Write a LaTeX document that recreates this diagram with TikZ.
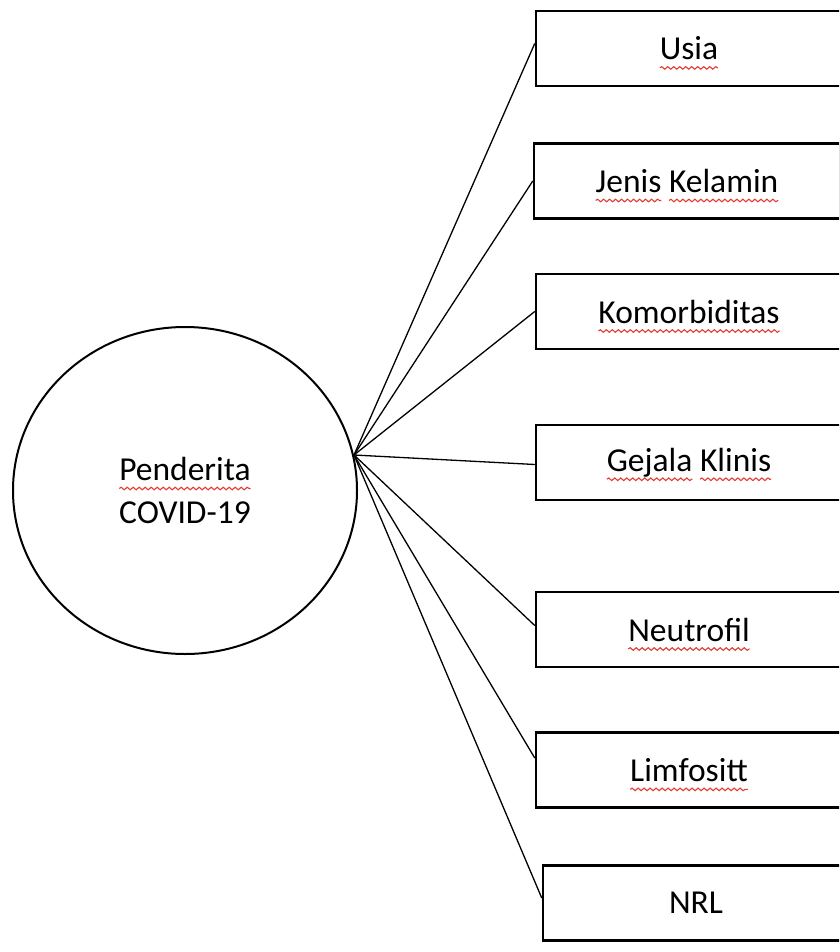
\documentclass[tikz,border=0pt]{standalone}
\usepackage{fontspec}
\setmainfont{Carlito}
\usetikzlibrary{shapes.geometric, decorations.pathmorphing}
\definecolor{spellred}{RGB}{225,60,50}

% red spell-check squiggle under a word
\newcommand{\wavy}[1]{\tikz[baseline=(w.base)]{%
  \node[shape=rectangle, draw=none, fill=none, inner sep=0pt, outer sep=0pt,
        minimum size=0pt, anchor=center] (w) {#1};
  \draw[overlay, spellred, line width=1.1pt, decorate,
        decoration={snake, amplitude=1.3pt, segment length=6pt}]
    ([yshift=-8pt]w.base west) -- ([yshift=-8pt]w.base east);}}

\begin{document}
\begin{tikzpicture}[
  x=1pt, y=-1pt,
  pasien/.style={ellipse, draw, line width=2pt, minimum width=344pt,
                 minimum height=327pt, align=center, inner sep=0pt,
                 font=\fontsize{33.5}{43}\selectfont},
  faktor/.style={rectangle, draw, line width=2.5pt, minimum width=306pt,
                 minimum height=75pt, inner sep=0pt,
                 font=\fontsize{33.5}{40}\selectfont},
  garis/.style={line width=1.3pt}
]
  \useasboundingbox (0,0) rectangle (839,952);
  \clip (0,0) rectangle (839,952);

  \node[pasien] (penderita) at (185,490.5) {\wavy{Penderita}\\COVID-19};
  \coordinate (hub) at (354,455);

  \node[faktor] (usia)   at (689,48.5)  {\wavy{Usia}};
  \node[faktor] (jenis)  at (687,181)   {\wavy{Jenis} \wavy{Kelamin}};
  \node[faktor] (komor)  at (689,311.5) {\wavy{Komorbiditas}};
  \node[faktor] (gejala) at (689,462.5) {\wavy{Gejala} \wavy{Klinis}};
  \node[faktor] (neutro) at (689,629.5) {\wavy{Neutrofil}};
  \node[faktor] (limfo)  at (689,770)   {\wavy{Limfositt}};
  \node[faktor] (nrl)    at (696,903)   {NRL};

  \draw[garis] (hub) -- ([yshift=5pt]usia.west);
  \draw[garis] (hub) -- (jenis.west);
  \draw[garis] (hub) -- (komor.west);
  \draw[garis] (hub) -- ([yshift=-2pt]gejala.west);
  \draw[garis] (hub) -- ([yshift=4pt]neutro.west);
  \draw[garis] (hub) -- ([yshift=12pt]limfo.west);
  \draw[garis] (hub) -- ([yshift=5pt]nrl.west);
\end{tikzpicture}
\end{document}
